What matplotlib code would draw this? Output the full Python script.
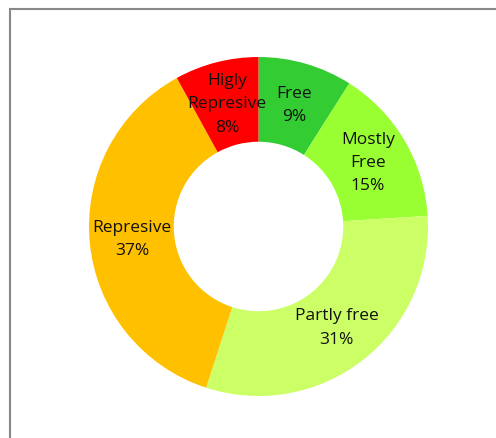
import matplotlib
matplotlib.use("Agg")
import matplotlib.pyplot as plt
from matplotlib.patches import Rectangle

# Data
categories = ["Free", "Mostly\nFree", "Partly free", "Represive", "Higly\nRepresive"]
shares = [9, 15, 31, 37, 8]
colors = ["#33CC33", "#99FF33", "#CCFF66", "#FFC000", "#FF0000"]

labels = [f"{c}\n{v}%" for c, v in zip(categories, shares)]

W, H = 496, 439
fig = plt.figure(figsize=(W / 100, H / 100), dpi=100)

# Donut placement (pixels from top-left)
cx, cy, r = 258.5, 227.5, 169.5
ax = fig.add_axes([(cx - r) / W, (H - cy - r) / H, 2 * r / W, 2 * r / H])

wedges, texts = ax.pie(
    shares,
    labels=labels,
    colors=colors,
    startangle=90,
    counterclock=False,
    labeldistance=0.75,
    radius=1,
    wedgeprops=dict(width=0.5, linewidth=0),
    textprops=dict(fontsize=12.5, family="Open Sans", color="#111111",
                   ha="center", va="center", linespacing=1.6),
)
for t in texts:
    t.set_ha("center")
    t.set_va("center")
ax.set_xlim(-1, 1)
ax.set_ylim(-1, 1)
ax.set_aspect("equal")
ax.axis("off")

# Chart area border
fig.patches.append(Rectangle((10 / W, -0.1), 1.2, (H - 10) / H + 0.1,
                             transform=fig.transFigure, fill=False,
                             edgecolor="#888888", linewidth=1.5))

fig.savefig("out.png", dpi=100)
